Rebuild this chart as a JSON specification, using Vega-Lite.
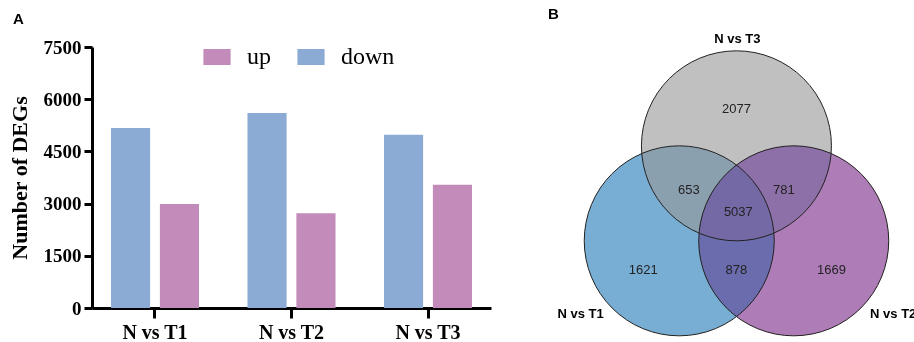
{
  "$schema": "https://vega.github.io/schema/vega-lite/v6.json",
  "background": "white",
  "padding": {"left": 8, "top": 7, "right": 0, "bottom": 0},
  "spacing": 50,
  "bounds": "flush",
  "resolve": {"scale": {"color": "independent", "opacity": "independent"}, "legend": {"color": "independent", "opacity": "independent"}},
  "config": {"view": {"stroke": null}, "axis": {"grid": false}},
  "hconcat": [
    {
      "width": 399,
      "height": 261,
      "title": {"text": "A", "anchor": "start", "frame": "group", "dx": -79, "offset": 11, "font": "Liberation Sans", "fontSize": 15, "fontWeight": "bold", "color": "black"},
      "data": {"values": [
        {"comparison": "N vs T1", "type": "down", "count": 5170},
        {"comparison": "N vs T1", "type": "up", "count": 2990},
        {"comparison": "N vs T2", "type": "down", "count": 5600},
        {"comparison": "N vs T2", "type": "up", "count": 2720},
        {"comparison": "N vs T3", "type": "down", "count": 4980},
        {"comparison": "N vs T3", "type": "up", "count": 3540}
      ]},
      "mark": {"type": "bar"},
      "encoding": {
        "x": {"field": "comparison", "type": "nominal", "sort": null,
          "scale": {"paddingInner": 0.355, "paddingOuter": 0.139},
          "axis": {"title": null, "labelAngle": 0, "labelFont": "Liberation Serif", "labelFontSize": 20, "labelFontWeight": "bold", "labelColor": "black", "labelPadding": 4, "domainColor": "black", "domainWidth": 3, "tickColor": "black", "tickWidth": 3, "tickSize": 10, "bandPosition": 0.5}},
        "xOffset": {"field": "type", "type": "nominal", "sort": ["down", "up"], "scale": {"paddingInner": 0.2, "paddingOuter": 0}},
        "y": {"field": "count", "type": "quantitative",
          "scale": {"domain": [0, 7500], "nice": false},
          "axis": {"title": "Number of  DEGs", "titleFont": "Liberation Serif", "titleFontSize": 22, "titleFontWeight": "bold", "titleColor": "black", "titlePadding": 12,
            "values": [0, 1500, 3000, 4500, 6000, 7500], "format": "d", "labelFont": "Liberation Serif", "labelFontSize": 19, "labelFontWeight": "bold", "labelColor": "black", "labelPadding": 3,
            "tickSize": 8, "tickWidth": 3, "tickColor": "black", "domainWidth": 3, "domainColor": "black"}},
        "color": {"field": "type", "type": "nominal",
          "scale": {"domain": ["up", "down"], "range": ["#c28bb9", "#8babd4"]},
          "legend": {"title": null, "orient": "none", "legendX": 113, "legendY": -2, "direction": "horizontal", "padding": 0,
            "labelFont": "Liberation Serif", "labelFontSize": 24, "labelColor": "black", "labelOffset": 18, "columnPadding": 26,
            "symbolType": "M-1.7,-1L1.7,-1L1.7,1L-1.7,1Z", "symbolSize": 256, "symbolStrokeWidth": 0, "symbolOpacity": 1}}
      }
    },
    {
      "width": 375,
      "height": 261,
      "title": {"text": "B", "anchor": "start", "frame": "group", "dx": 7, "offset": 11, "font": "Liberation Sans", "fontSize": 15, "fontWeight": "bold", "color": "black"},
      "layer": [
        {
          "data": {"values": [
            {"set": "N vs T1", "x": -0.602, "y": 0},
            {"set": "N vs T3", "x": 0, "y": 1.0},
            {"set": "N vs T2", "x": 0.603, "y": 0}
          ]},
          "transform": [{"filter": "datum.set != 'N vs T2'"}],
          "mark": {"type": "point", "shape": "circle", "filled": true, "size": 36100, "strokeWidth": 0},
          "encoding": {
            "x": {"field": "x", "type": "quantitative", "scale": {"domain": [-2.057, 1.89], "nice": false, "zero": false}, "axis": null},
            "y": {"field": "y", "type": "quantitative", "scale": {"domain": [-0.707, 2.04], "nice": false, "zero": false}, "axis": null},
            "color": {"field": "set", "type": "nominal", "scale": {"domain": ["N vs T1", "N vs T3"], "range": ["#78aed3", "#989898"]}, "legend": null},
            "opacity": {"field": "set", "type": "nominal", "scale": {"domain": ["N vs T1", "N vs T3"], "range": [1, 0.61]}, "legend": null}
          }
        },
        {
          "data": {"values": [
            {"set": "N vs T1", "x": -0.602, "y": 0},
            {"set": "N vs T3", "x": 0, "y": 1.0},
            {"set": "N vs T2", "x": 0.603, "y": 0}
          ]},
          "transform": [{"filter": "datum.set == 'N vs T2'"}],
          "mark": {"type": "point", "shape": "circle", "filled": true, "size": 36100, "strokeWidth": 0, "color": "#fe6872", "opacity": 1, "blend": "multiply"},
          "encoding": {
            "x": {"field": "x", "type": "quantitative"},
            "y": {"field": "y", "type": "quantitative"}
          }
        },
        {
          "data": {"values": [
            {"set": "N vs T1", "x": -0.602, "y": 0},
            {"set": "N vs T3", "x": 0, "y": 1.0},
            {"set": "N vs T2", "x": 0.603, "y": 0}
          ]},
          "transform": [{"filter": "datum.set == 'N vs T2'"}],
          "mark": {"type": "point", "shape": "circle", "filled": true, "size": 36100, "strokeWidth": 0, "color": "#5e92fc", "opacity": 0.5},
          "encoding": {
            "x": {"field": "x", "type": "quantitative"},
            "y": {"field": "y", "type": "quantitative"}
          }
        },
        {
          "data": {"values": [
            {"set": "N vs T1", "x": -0.602, "y": 0},
            {"set": "N vs T3", "x": 0, "y": 1.0},
            {"set": "N vs T2", "x": 0.603, "y": 0}
          ]},
          "mark": {"type": "point", "shape": "circle", "filled": false, "size": 36100, "stroke": "#222222", "strokeWidth": 1, "opacity": 1},
          "encoding": {
            "x": {"field": "x", "type": "quantitative"},
            "y": {"field": "y", "type": "quantitative"}
          }
        },
        {
          "data": {"values": [
            {"n": 2077, "x": 0, "y": 1.39},
            {"n": 653, "x": -0.5, "y": 0.53},
            {"n": 781, "x": 0.5, "y": 0.53},
            {"n": 5037, "x": 0.02, "y": 0.3},
            {"n": 1621, "x": -0.98, "y": -0.31},
            {"n": 878, "x": 0.0, "y": -0.31},
            {"n": 1669, "x": 1.0, "y": -0.31}
          ]},
          "mark": {"type": "text", "font": "Liberation Sans", "fontSize": 13, "color": "#222222"},
          "encoding": {
            "x": {"field": "x", "type": "quantitative"},
            "y": {"field": "y", "type": "quantitative"},
            "text": {"field": "n", "type": "nominal"}
          }
        },
        {
          "data": {"values": [
            {"name": "N vs T3", "x": 0.01, "y": 2.12},
            {"name": "N vs T1", "x": -1.64, "y": -0.77},
            {"name": "N vs T2", "x": 1.65, "y": -0.77}
          ]},
          "mark": {"type": "text", "font": "Liberation Sans", "fontSize": 13, "fontWeight": "bold", "color": "black"},
          "encoding": {
            "x": {"field": "x", "type": "quantitative"},
            "y": {"field": "y", "type": "quantitative"},
            "text": {"field": "name", "type": "nominal"}
          }
        }
      ]
    }
  ]
}
